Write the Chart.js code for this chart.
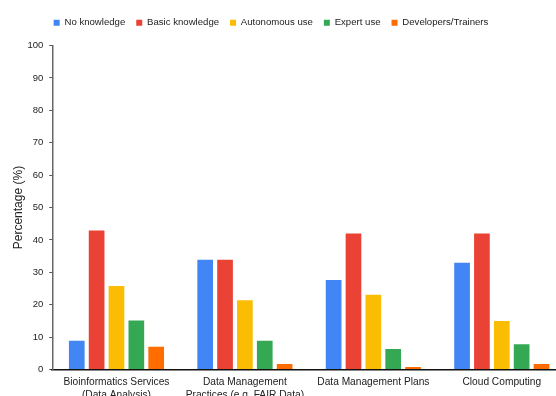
<!DOCTYPE html>
<html>
<head>
<meta charset="utf-8">
<script src="https://cdn.jsdelivr.net/npm/chart.js@4/dist/chart.umd.min.js"></script>
<style>
  html, body { margin: 0; padding: 0; background: #fff; overflow: hidden; }
  #wrap { position: relative; width: 566px; height: 400px; }
</style>
</head>
<body>
<div id="wrap"><canvas id="skills"></canvas></div>
<script>
// categories (multi-line labels)
const categories = [
  ["Bioinformatics Services", "(Data Analysis)"],
  ["Data Management", "Practices (e.g. FAIR Data)"],
  ["Data Management Plans"],
  ["Cloud Computing"]
];

// series values (%), one per category
const noKnowledge = [8.9, 33.9, 27.6, 33.0];
const basicKnowledge = [42.9, 33.9, 42.0, 42.0];
const autonomousUse = [25.8, 21.4, 23.1, 15.0];
const expertUse = [15.1, 8.9, 6.3, 7.8];
const developersTrainers = [7.0, 1.7, 0.8, 1.7];

const seriesNames = ["No knowledge", "Basic knowledge", "Autonomous use", "Expert use", "Developers/Trainers"];
const seriesColors = ["#4285f4", "#ea4335", "#fbbc04", "#34a853", "#ff6d01"];
const yTicks = [0, 10, 20, 30, 40, 50, 60, 70, 80, 90, 100];

const allSeries = [noKnowledge, basicKnowledge, autonomousUse, expertUse, developersTrainers];

const font = "'Liberation Sans', Arial, sans-serif";

// the reference legend sits a bit left and higher than chart.js puts it
const legendShift = {
  id: 'legendShift',
  afterLayout(chart) {
    const lg = chart.legend;
    if (!lg) return;
    lg.left -= 16;
    lg.right -= 16;
    lg.top -= 8;
    lg.bottom -= 8;
  }
};

new Chart(document.getElementById('skills'), {
  type: 'bar',
  data: {
    labels: categories,
    datasets: allSeries.map((vals, i) => ({
      label: seriesNames[i],
      data: vals,
      backgroundColor: seriesColors[i],
      borderWidth: 0,
      categoryPercentage: 0.773,
      barPercentage: 0.79
    }))
  },
  options: {
    responsive: true,
    maintainAspectRatio: false,
    animation: false,
    layout: { padding: { left: 8, right: 0, top: 15, bottom: 0 } },
    plugins: {
      tooltip: { enabled: false },
      legend: {
        position: 'top',
        labels: {
          font: { family: font, size: 9.6 },
          color: '#222',
          boxWidth: 6,
          boxHeight: 6,
          padding: 11
        }
      }
    },
    scales: {
      x: {
        grid: { display: false },
        border: { display: true, color: '#111', width: 1.6 },
        ticks: {
          font: { family: font, size: 10.2 },
          color: '#222',
          maxRotation: 0,
          autoSkip: false,
          padding: -1
        }
      },
      y: {
        min: 0,
        max: 100,
        afterBuildTicks(axis) {
          axis.ticks = yTicks.map(v => ({ value: v }));
        },
        grid: {
          drawOnChartArea: false,
          drawTicks: true,
          tickLength: 3,
          color: '#555'
        },
        border: { display: true, color: '#666', width: 1.5 },
        ticks: {
          font: { family: font, size: 9.5 },
          color: '#222',
          padding: 6
        },
        title: {
          display: true,
          text: 'Percentage (%)',
          font: { family: font, size: 12 },
          color: '#222',
          padding: { top: 3, bottom: -4 }
        }
      }
    }
  },
  plugins: [legendShift]
});
</script>
</body>
</html>
